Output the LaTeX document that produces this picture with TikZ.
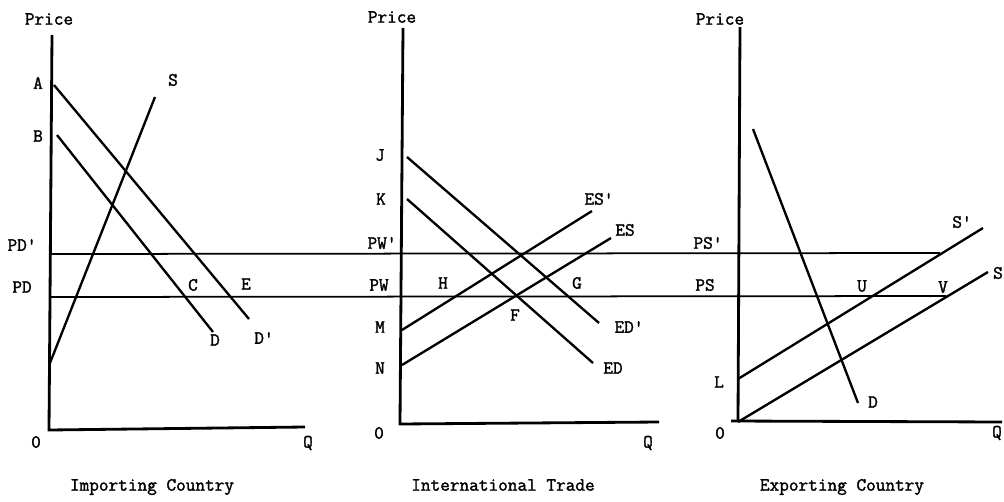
\documentclass[tikz,border=0pt]{standalone}
\usepackage{fontspec}
\setmonofont{Latin Modern Mono}[AutoFakeBold=1.6]
\usepackage{tikz}

\begin{document}
\begin{tikzpicture}[x=0.03cm,y=-0.03cm,
  lbl/.style={font=\ttfamily\bfseries\fontsize{16}{18}\selectfont,inner sep=0pt},
  axisline/.style={line width=2.4pt},
  curve/.style={line width=2pt},
  priceline/.style={line width=1.5pt}]
\useasboundingbox (0,0) rectangle (1004,501);

% importing country
\coordinate (Itop) at (52,35);
\coordinate (Io)   at (49,430);
\coordinate (Iend) at (305,427);
\node[lbl] (Iprice) at (49,19) {Price};
\node[lbl] (IO) at (36,442) {0};
\node[lbl] (IQ) at (308,443) {Q};
\node[lbl] (A) at (38,83) {A};
\node[lbl] (B) at (38,136) {B};
\node[lbl] (PDp) at (22,245) {PD'};
\node[lbl] (PD) at (22,287) {PD};
\node[lbl] (Simp) at (173,80) {S};
\node[lbl] (C) at (193,285) {C};
\node[lbl] (E) at (246,284) {E};
\node[lbl] (Dimp) at (215,340) {D};
\node[lbl] (Dpimp) at (264,338) {D'};
\node[lbl] (Ititle) at (152,487) {Importing Country};
\coordinate (a1) at (54,85);
\coordinate (a2) at (249,319);
\coordinate (b1) at (57,135);
\coordinate (b2) at (213,332);
\coordinate (s1) at (50,363);
\coordinate (s2) at (155,97);

\draw[axisline] (Itop) -- (Io) -- (Iend);
\draw[curve] (a1) -- (a2);
\draw[curve] (b1) -- (b2);
\draw[curve] (s1) -- (s2);

% international trade
\coordinate (Ttop) at (403,28);
\coordinate (To)   at (400,424);
\coordinate (Tend) at (659,422);
\node[lbl] (Tprice) at (392,17) {Price};
\node[lbl] (TO) at (379,433) {0};
\node[lbl] (TQ) at (648,443) {Q};
\node[lbl] (J) at (380,155) {J};
\node[lbl] (K) at (381,199) {K};
\node[lbl] (PWp) at (382,243) {PW'};
\node[lbl] (PW) at (379,285) {PW};
\node[lbl] (M) at (380,327) {M};
\node[lbl] (N) at (380,368) {N};
\node[lbl] (H) at (443,283) {H};
\node[lbl] (G) at (577,283) {G};
\node[lbl] (F) at (515,315) {F};
\node[lbl] (EDp) at (629,327) {ED'};
\node[lbl] (ED) at (613,368) {ED};
\node[lbl] (ESp) at (599,199) {ES'};
\node[lbl] (ES) at (625,230) {ES};
\node[lbl] (Ttitle) at (503,485) {International Trade};
\coordinate (j1) at (407,157);
\coordinate (j2) at (599,323);
\coordinate (k1) at (407,199);
\coordinate (k2) at (593,363);
\coordinate (m1) at (402,330);
\coordinate (m2) at (592,211);
\coordinate (n1) at (402,365);
\coordinate (n2) at (611,238);

\draw[axisline] (Ttop) -- (To) -- (Tend);
\draw[curve] (j1) -- (j2);
\draw[curve] (k1) -- (k2);
\draw[curve] (m1) -- (m2);
\draw[curve] (n1) -- (n2);

% exporting country
\coordinate (Etop) at (740,27);
\coordinate (Eo)   at (738,422);
\coordinate (Estart) at (731,421);
\coordinate (Eend) at (1002,422);
\node[lbl] (Eprice) at (720,19) {Price};
\node[lbl] (EO) at (720,433) {0};
\node[lbl] (EQ) at (997,433) {Q};
\node[lbl] (PSp) at (708,243) {PS'};
\node[lbl] (PS) at (705,285) {PS};
\node[lbl] (L) at (719,382) {L};
\node[lbl] (U) at (862,286) {U};
\node[lbl] (V) at (943,287) {V};
\node[lbl] (Dexp) at (873,402) {D};
\node[lbl] (Spexp) at (962,222) {S'};
\node[lbl] (Sexp) at (998,273) {S};
\node[lbl] (Etitle) at (842,487) {Exporting Country};
\coordinate (d1) at (753,129);
\coordinate (d2) at (858,403);
\coordinate (sp1) at (738,379);
\coordinate (sp2) at (983,228);
\coordinate (se2) at (988,272);

\draw[axisline] (Etop) -- (Eo);
\draw[axisline] (Estart) -- (Eend);
\draw[curve] (d1) -- (d2);
\draw[curve] (sp1) -- (sp2);
\draw[curve] (Eo) -- (se2);

% price levels across the three panels
\coordinate (hi1) at (50,254);
\coordinate (hi2) at (940,253);
\coordinate (lo1) at (50,297);
\coordinate (lo2) at (946,296);
\draw[priceline] (hi1) -- (hi2);
\draw[priceline] (lo1) -- (lo2);
\end{tikzpicture}
\end{document}
